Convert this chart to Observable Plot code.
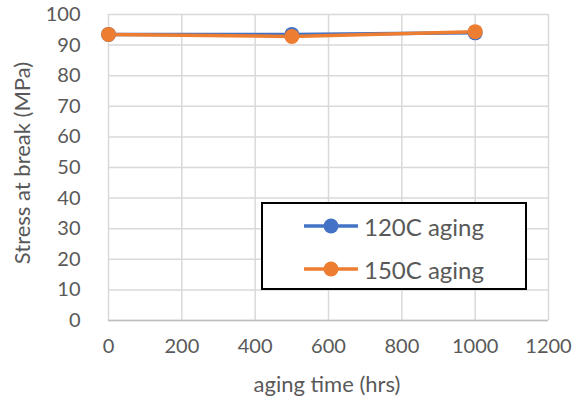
<!DOCTYPE html>
<html><head><meta charset="utf-8">
<script src="https://cdn.jsdelivr.net/npm/d3@7"></script>
<script src="https://cdn.jsdelivr.net/npm/@observablehq/plot@0.6"></script>
<style>
body{margin:0;background:#fff;}
#wrap{position:relative;width:577px;height:404px;overflow:hidden;font-family:Lato,"Open Sans",sans-serif;color:#595959;}
.ttl{position:absolute;white-space:nowrap;font-size:22px;color:#595959;}
#legend{position:absolute;left:261px;top:202px;width:262px;height:84px;border:2px solid #000;background:#fff;}
.row{position:absolute;left:0;height:30px;display:flex;align-items:center;font-size:24px;}
.row svg{margin-left:40px;margin-right:5px;}
</style></head>
<body><div id="wrap"></div>
<script>
const xs = [0, 500, 1000];
const s120 = [93.5, 93.5, 94.0];
const s150 = [93.5, 92.8, 94.4];
const seriesNames = ["120C aging", "150C aging"];
const seriesColors = ["#4472C4", "#ED7D31"];
const xTicks = [0, 200, 400, 600, 800, 1000, 1200];
const yTicks = [0, 10, 20, 30, 40, 50, 60, 70, 80, 90, 100];
const xTitle = "aging time (hrs)";
const yTitle = "Stress at break (MPa)";

const data = [];
[s120, s150].forEach((vals, i) => vals.forEach((v, j) => data.push({x: xs[j], y: v, s: seriesNames[i]})));

const chart = Plot.plot({
  width: 577, height: 404,
  marginLeft: 108, marginRight: 29, marginTop: 14, marginBottom: 84,
  style: {fontFamily: "Lato, 'Open Sans', sans-serif", color: "#595959", background: "#fff"},
  x: {domain: [0, 1200]},
  y: {domain: [0, 100]},
  color: {domain: seriesNames, range: seriesColors},
  marks: [
    Plot.gridX(xTicks, {stroke: "#d9d9d9", strokeOpacity: 1, strokeWidth: 1.5}),
    Plot.gridY(yTicks, {stroke: "#d9d9d9", strokeOpacity: 1, strokeWidth: 1.5}),
    Plot.ruleY([0], {stroke: "#bfbfbf", strokeWidth: 1.5}),
    Plot.axisX({ticks: xTicks, tickFormat: d => String(d), tickSize: 0, tickPadding: 18, fontSize: 20, label: null, fill: "#595959"}),
    Plot.axisY({ticks: yTicks, tickFormat: d => String(d), tickSize: 0, tickPadding: 28, fontSize: 20, label: null, fill: "#595959"}),
    Plot.line(data, {x: "x", y: "y", z: "s", stroke: "s", strokeWidth: 3.5}),
    Plot.dot(data, {x: "x", y: "y", fill: "s", r: 7.5})
  ]
});
const wrap = document.getElementById("wrap");
wrap.appendChild(chart);

const xt = document.createElement("div");
xt.className = "ttl"; xt.textContent = xTitle;
xt.style.left = "327px"; xt.style.top = "383px"; xt.style.transform = "translate(-50%,-50%)";
wrap.appendChild(xt);
const yt = document.createElement("div");
yt.className = "ttl"; yt.textContent = yTitle;
yt.style.left = "21px"; yt.style.top = "163px"; yt.style.transform = "translate(-50%,-50%) rotate(-90deg)";
wrap.appendChild(yt);

const lg = document.createElement("div"); lg.id = "legend";
seriesNames.forEach((n, i) => {
  const r = document.createElement("div"); r.className = "row";
  r.style.top = (i === 0 ? 7 : 50) + "px";
  r.innerHTML = `<svg width="56" height="20"><line x1="1" y1="10" x2="55" y2="10" stroke="${seriesColors[i]}" stroke-width="3.5"/><circle cx="28" cy="10" r="7.5" fill="${seriesColors[i]}"/></svg><span>${n}</span>`;
  lg.appendChild(r);
});
wrap.appendChild(lg);
</script></body></html>
